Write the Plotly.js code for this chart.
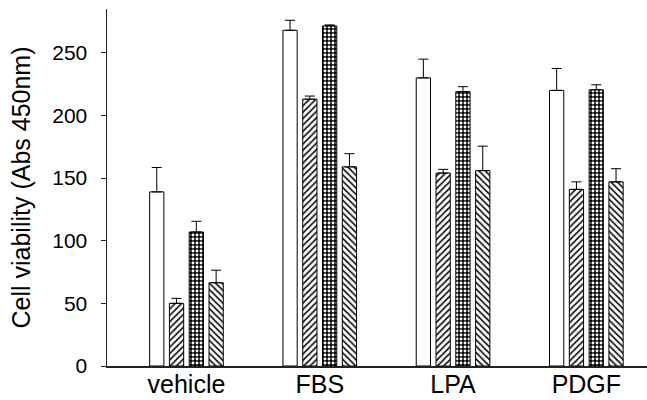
<!DOCTYPE html>
<html>
<head>
<meta charset="utf-8">
<script src="https://cdn.plot.ly/plotly-3.0.1.min.js"></script>
<style>html,body{margin:0;padding:0;background:#fff;}#chart{width:647px;height:400px;}</style>
</head>
<body>
<div id="chart"></div>
<script>
const categories = ["vehicle", "FBS", "LPA", "PDGF"];
const seriesA = [139, 268, 230, 220];
const errA = [19.5, 8, 15, 17.5];
const seriesB = [50, 213, 154, 141];
const errB = [4, 2.5, 3, 6];
const seriesC = [107, 271.5, 219, 220.5];
const errC = [8.5, 0.8, 4, 4];
const seriesD = [66.5, 159, 156, 147];
const errD = [10, 10.5, 19.5, 10.5];
const yTicks = [0, 50, 100, 150, 200, 250];

function mk(vals, errs, pattern) {
  const t = {
    type: 'bar', x: categories, y: vals,
    marker: {color: '#ffffff', line: {color: '#000', width: 1}},
    error_y: {type: 'data', symmetric: false, array: errs, arrayminus: errs.map(() => 0),
              color: '#000', thickness: 1, width: 5},
    showlegend: false, hoverinfo: 'skip'
  };
  if (pattern) t.marker.pattern = pattern;
  return t;
}

const data = [
  mk(seriesA, errA, null),
  mk(seriesB, errB, {shape: '/', fgcolor: '#000', bgcolor: '#fff', size: 4.5, solidity: 0.33, fillmode: 'replace'}),
  mk(seriesC, errC, {shape: '.', fgcolor: '#fff', bgcolor: '#000', size: 4, solidity: 0.42, fillmode: 'replace'}),
  mk(seriesD, errD, {shape: '\\', fgcolor: '#000', bgcolor: '#fff', size: 4.5, solidity: 0.33, fillmode: 'replace'})
];

const layout = {
  width: 647, height: 400,
  margin: {l: 107, r: 0, t: 9, b: 34, pad: 0},
  paper_bgcolor: '#fff', plot_bgcolor: '#fff',
  font: {family: 'Liberation Sans, Arial, sans-serif', color: '#000', size: 20},
  barmode: 'group', bargap: 0.406, bargroupgap: 0.28,
  xaxis: {
    range: [-0.596, 3.455], showline: true, linecolor: '#222', linewidth: 1.5,
    ticks: '', showgrid: false, zeroline: false, fixedrange: true,
    tickfont: {size: 25}, ticklabelstandoff: -5
  },
  yaxis: {
    range: [0, 285], showline: true, linecolor: '#222', linewidth: 1.5,
    ticks: 'outside', ticklen: 5, tickwidth: 1, tickcolor: '#222',
    tickvals: yTicks, ticktext: yTicks.map(String),
    showgrid: false, zeroline: false, tickfont: {size: 21}, ticklabelstandoff: 9,
    title: {text: 'Cell viability (Abs 450nm)', font: {size: 25}, standoff: 14}
  }
};

Plotly.newPlot('chart', data, layout, {staticPlot: true, displayModeBar: false});
</script>
</body>
</html>
